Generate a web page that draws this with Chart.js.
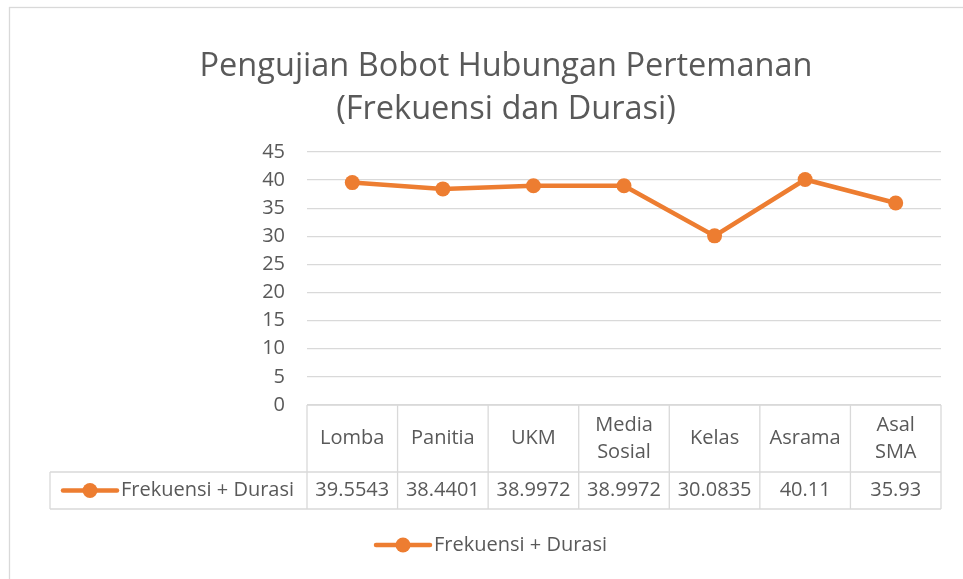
<!DOCTYPE html>
<html>
<head>
<meta charset="utf-8">
<script src="https://cdn.jsdelivr.net/npm/chart.js@4/dist/chart.umd.min.js"></script>
<style>
  html, body { margin: 0; padding: 0; background: #fff; }
  canvas { display: block; }
</style>
</head>
<body>
<canvas id="chart" width="963" height="579"></canvas>
<script>
const titleLines = ["Pengujian Bobot Hubungan Pertemanan", "(Frekuensi dan Durasi)"]
const categories = ["Lomba", "Panitia", "UKM", ["Media", "Sosial"], "Kelas", "Asrama", ["Asal", "SMA"]]
const seriesName = "Frekuensi + Durasi"
const seriesValues = [39.5543, 38.4401, 38.9972, 38.9972, 30.0835, 40.11, 35.93]
const valueLabels = ["39.5543", "38.4401", "38.9972", "38.9972", "30.0835", "40.11", "35.93"]

const orange = "#ed7d31"
const textColor = "#595959"
const gridColor = "#d9d9d9"
const fontFamily = "'Open Sans', Lato, sans-serif"

// Draws the line + dot marker used in the table and the legend
function drawMarker(ctx, x1, x2, y) {
  ctx.save()
  ctx.strokeStyle = orange
  ctx.lineWidth = 4.5
  ctx.lineCap = "round"
  ctx.beginPath()
  ctx.moveTo(x1, y)
  ctx.lineTo(x2, y)
  ctx.stroke()
  ctx.fillStyle = orange
  ctx.beginPath()
  ctx.arc((x1 + x2) / 2, y, 7.5, 0, Math.PI * 2)
  ctx.fill()
  ctx.restore()
}

// Frame, title, data table and legend drawn around the plot
const extras = {
  id: "extras",
  afterDraw(chart) {
    const ctx = chart.ctx
    const area = chart.chartArea
    const x = chart.scales.x
    const half = (x.getPixelForValue(1) - x.getPixelForValue(0)) / 2

    ctx.save()
    // chart frame
    ctx.strokeStyle = gridColor
    ctx.lineWidth = 1.3
    ctx.strokeRect(9.5, 7.5, 1000, 600)

    // title
    ctx.fillStyle = textColor
    ctx.textAlign = "center"
    ctx.textBaseline = "middle"
    ctx.font = "32.5px " + fontFamily
    ctx.fillText(titleLines[0], 506, 67)
    ctx.fillText(titleLines[1], 506, 110)

    // data table
    const top = area.bottom
    const rowSplit = top + 67
    const bottom = rowSplit + 37
    const nameLeft = 50
    ctx.strokeStyle = gridColor
    ctx.lineWidth = 1.3
    ctx.beginPath()
    ctx.moveTo(area.left, top); ctx.lineTo(area.right, top)
    ctx.moveTo(nameLeft, rowSplit); ctx.lineTo(area.right, rowSplit)
    ctx.moveTo(nameLeft, bottom); ctx.lineTo(area.right, bottom)
    ctx.moveTo(nameLeft, rowSplit); ctx.lineTo(nameLeft, bottom)
    for (let i = 0; i < categories.length; i++) {
      const edge = x.getPixelForValue(i) - half
      ctx.moveTo(edge, top); ctx.lineTo(edge, bottom)
    }
    ctx.moveTo(area.right, top); ctx.lineTo(area.right, bottom)
    ctx.stroke()

    ctx.font = "20px " + fontFamily
    ctx.fillStyle = textColor
    categories.forEach((cat, i) => {
      const cx = x.getPixelForValue(i)
      const lines = Array.isArray(cat) ? cat : [cat]
      const mid = (top + rowSplit) / 2
      lines.forEach((t, j) => {
        ctx.fillText(t, cx, mid + (j - (lines.length - 1) / 2) * 27)
      })
      ctx.fillText(valueLabels[i], cx, (rowSplit + bottom) / 2)
    })

    // series name cell
    const rowMid = (rowSplit + bottom) / 2
    drawMarker(ctx, 63, 117, rowMid)
    ctx.textAlign = "left"
    ctx.fillStyle = textColor
    ctx.fillText(seriesName, 121, rowMid)

    // legend
    drawMarker(ctx, 376, 430, 545)
    ctx.fillStyle = textColor
    ctx.fillText(seriesName, 434, 545)
    ctx.restore()
  }
}

new Chart(document.getElementById("chart"), {
  type: "line",
  data: {
    labels: categories,
    datasets: [
      {
        label: seriesName,
        data: seriesValues,
        borderColor: orange,
        backgroundColor: orange,
        borderWidth: 4.5,
        pointRadius: 7.5,
        pointHoverRadius: 7.5,
        pointBackgroundColor: orange,
        pointBorderWidth: 0,
        tension: 0,
      },
    ],
  },
  options: {
    responsive: false,
    animation: false,
    layout: { padding: { left: 0, right: 22, top: 152, bottom: 174 } },
    plugins: {
      legend: { display: false },
      title: { display: false },
      tooltip: { enabled: false },
    },
    scales: {
      x: { type: "category", offset: true, display: false },
      y: {
        min: 0,
        max: 45,
        afterFit: (scale) => { scale.width = 307 },
        ticks: {
          stepSize: 5,
          color: textColor,
          padding: 22,
          font: { family: fontFamily, size: 20 },
        },
        grid: { color: gridColor, lineWidth: 1.3, drawTicks: false },
        border: { display: false },
      },
    },
  },
  plugins: [extras],
})
</script>
</body>
</html>
